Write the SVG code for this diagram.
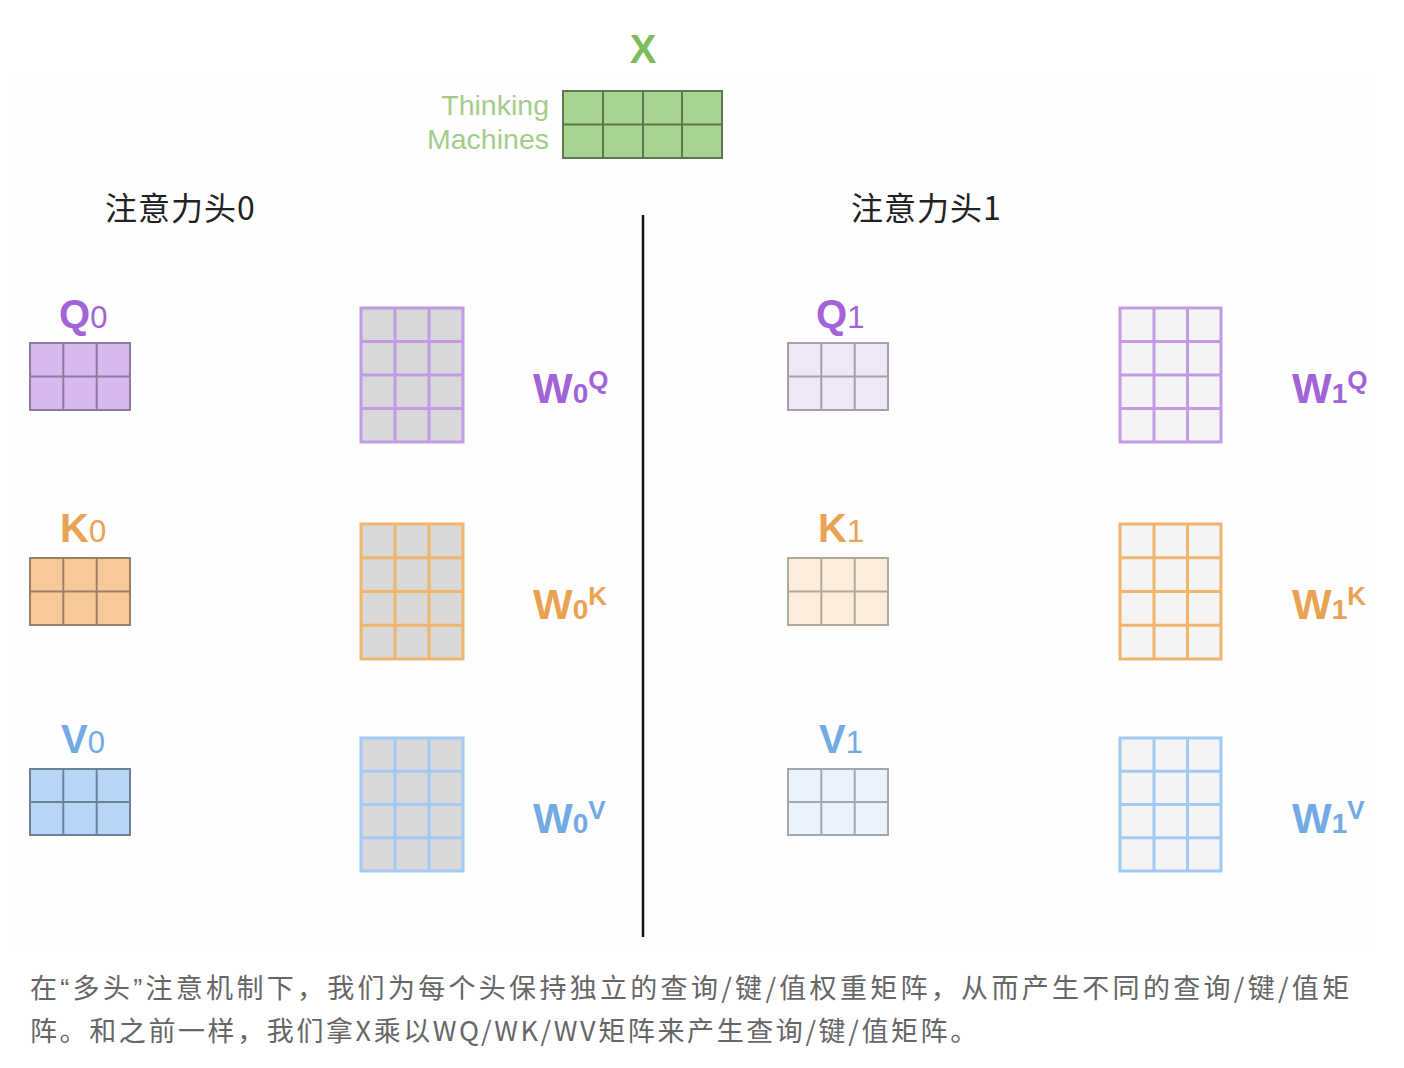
<svg xmlns="http://www.w3.org/2000/svg" width="1404" height="1068" viewBox="0 0 1404 1068">
<style>
.lbl{font-family:"Liberation Sans",Arial,sans-serif;font-weight:bold}
.sub{font-family:"Liberation Sans",Arial,sans-serif;font-weight:normal}
.head{font-family:"Noto Sans CJK SC","Liberation Sans",sans-serif;font-size:32px;fill:#222;letter-spacing:1px}
.cap{font-family:"Noto Sans CJK SC","Liberation Sans",sans-serif;font-size:27px;fill:#666}
.qt{font-family:"Liberation Sans",Arial,sans-serif}
.wq{fill:#d8d8d8;stroke:#c39ae6;stroke-width:3}
.wq1{fill:#f4f4f4;stroke:#c39ae6;stroke-width:3}
.wk{fill:#d8d8d8;stroke:#f0b46c;stroke-width:3}
.wk1{fill:#f4f4f4;stroke:#f0b46c;stroke-width:3}
.wv{fill:#d8d8d8;stroke:#a2c9f2;stroke-width:3}
.wv1{fill:#f4f4f4;stroke:#a2c9f2;stroke-width:3}
.q0{fill:#d6b9ee;stroke:#8e7a9c;stroke-width:2}
.q1{fill:#efe6f7;stroke:#a59fac;stroke-width:2}
.k0{fill:#f7c998;stroke:#9a8068;stroke-width:2}
.k1{fill:#fcecdb;stroke:#b3a79c;stroke-width:2}
.v0{fill:#b7d5f6;stroke:#6e8196;stroke-width:2}
.v1{fill:#eaf2fc;stroke:#a0a8b2;stroke-width:2}
.cq{fill:#a263d8}
.ck{fill:#e9a251}
.cv{fill:#72aae6}
</style>
<rect width="1404" height="1068" fill="#ffffff"/>
<rect x="14" y="74" width="1358" height="878" fill="#fefefe"/>

<g id="X">
  <text x="643" y="63" text-anchor="middle" class="lbl" font-size="40" fill="#7dbd5b">X</text>
  <text x="549" y="115" text-anchor="end" font-family="'Liberation Sans',Arial,sans-serif" font-size="28.5" fill="#a3cc8a">Thinking</text>
  <text x="549" y="149" text-anchor="end" font-family="'Liberation Sans',Arial,sans-serif" font-size="28.5" fill="#a3cc8a">Machines</text>
  <rect x="563" y="91" width="159" height="67" fill="#a9d390" stroke="#5d7654" stroke-width="2"/>
  <path d="M603 91V158M643 91V158M682 91V158M563 124.5H722" stroke="#5d7654" stroke-width="2" fill="none"/>
</g>

<g id="head0"><text x="105" y="220" class="head">注意力头0</text></g>
<g id="head1"><text x="851" y="220" class="head">注意力头1</text></g>

<g id="divider"><line x1="643" y1="215" x2="643" y2="937" stroke="#111" stroke-width="2.5"/></g>

<!-- Head 0 -->
<g id="Q0">
  <text x="59" y="328" class="lbl cq" font-size="40">Q<tspan class="sub" font-size="31">0</tspan></text>
  <rect x="30" y="343" width="100" height="67" class="q0"/>
  <path d="M63.3 343V410M96.7 343V410M30 376.5H130" class="q0" fill="none"/>
</g>
<g id="W0Q">
  <rect x="361" y="308" width="102" height="134" class="wq"/>
  <path d="M395 308V442M429 308V442M361 341.5H463M361 375H463M361 408.5H463" class="wq" fill="none"/>
  <text x="533" y="403" class="lbl cq" font-size="42">W<tspan font-size="28">0</tspan><tspan font-size="26" dy="-14">Q</tspan></text>
</g>
<g id="K0">
  <text x="60" y="542" class="lbl ck" font-size="40">K<tspan class="sub" font-size="31">0</tspan></text>
  <rect x="30" y="558" width="100" height="67" class="k0"/>
  <path d="M63.3 558V625M96.7 558V625M30 591.5H130" class="k0" fill="none"/>
</g>
<g id="W0K">
  <rect x="361" y="524" width="102" height="135" class="wk"/>
  <path d="M395 524V659M429 524V659M361 557.75H463M361 591.5H463M361 625.25H463" class="wk" fill="none"/>
  <text x="533" y="619" class="lbl ck" font-size="42">W<tspan font-size="28">0</tspan><tspan font-size="26" dy="-14">K</tspan></text>
</g>
<g id="V0">
  <text x="61" y="753" class="lbl cv" font-size="40">V<tspan class="sub" font-size="31">0</tspan></text>
  <rect x="30" y="769" width="100" height="66" class="v0"/>
  <path d="M63.3 769V835M96.7 769V835M30 802H130" class="v0" fill="none"/>
</g>
<g id="W0V">
  <rect x="361" y="738" width="102" height="133" class="wv"/>
  <path d="M395 738V871M429 738V871M361 771.25H463M361 804.5H463M361 837.75H463" class="wv" fill="none"/>
  <text x="533" y="833" class="lbl cv" font-size="42">W<tspan font-size="28">0</tspan><tspan font-size="26" dy="-14">V</tspan></text>
</g>

<!-- Head 1 -->
<g id="Q1">
  <text x="816" y="328" class="lbl cq" font-size="40">Q<tspan class="sub" font-size="31">1</tspan></text>
  <rect x="788" y="343" width="100" height="67" class="q1"/>
  <path d="M821.3 343V410M854.7 343V410M788 376.5H888" class="q1" fill="none"/>
</g>
<g id="W1Q">
  <rect x="1120" y="308" width="101" height="134" class="wq1"/>
  <path d="M1154 308V442M1187.5 308V442M1120 341.5H1221M1120 375H1221M1120 408.5H1221" class="wq1" fill="none"/>
  <text x="1292" y="403" class="lbl cq" font-size="42">W<tspan font-size="28">1</tspan><tspan font-size="26" dy="-14">Q</tspan></text>
</g>
<g id="K1">
  <text x="818" y="542" class="lbl ck" font-size="40">K<tspan class="sub" font-size="31">1</tspan></text>
  <rect x="788" y="558" width="100" height="67" class="k1"/>
  <path d="M821.3 558V625M854.7 558V625M788 591.5H888" class="k1" fill="none"/>
</g>
<g id="W1K">
  <rect x="1120" y="524" width="101" height="135" class="wk1"/>
  <path d="M1154 524V659M1187.5 524V659M1120 557.75H1221M1120 591.5H1221M1120 625.25H1221" class="wk1" fill="none"/>
  <text x="1292" y="619" class="lbl ck" font-size="42">W<tspan font-size="28">1</tspan><tspan font-size="26" dy="-14">K</tspan></text>
</g>
<g id="V1">
  <text x="819" y="753" class="lbl cv" font-size="40">V<tspan class="sub" font-size="31">1</tspan></text>
  <rect x="788" y="769" width="100" height="66" class="v1"/>
  <path d="M821.3 769V835M854.7 769V835M788 802H888" class="v1" fill="none"/>
</g>
<g id="W1V">
  <rect x="1120" y="738" width="101" height="133" class="wv1"/>
  <path d="M1154 738V871M1187.5 738V871M1120 771.25H1221M1120 804.5H1221M1120 837.75H1221" class="wv1" fill="none"/>
  <text x="1292" y="833" class="lbl cv" font-size="42">W<tspan font-size="28">1</tspan><tspan font-size="26" dy="-14">V</tspan></text>
</g>

<g id="caption">
  <text x="30" y="998" class="cap" letter-spacing="3.3">在<tspan class="qt">“</tspan>多头<tspan class="qt">”</tspan>注意机制下，我们为每个头保持独立的查询/键/值权重矩阵，从而产生不同的查询/键/值矩</text>
  <text x="30" y="1041" class="cap" letter-spacing="2.6">阵。和之前一样，我们拿X乘以WQ/WK/WV矩阵来产生查询/键/值矩阵。</text>
</g>
</svg>
